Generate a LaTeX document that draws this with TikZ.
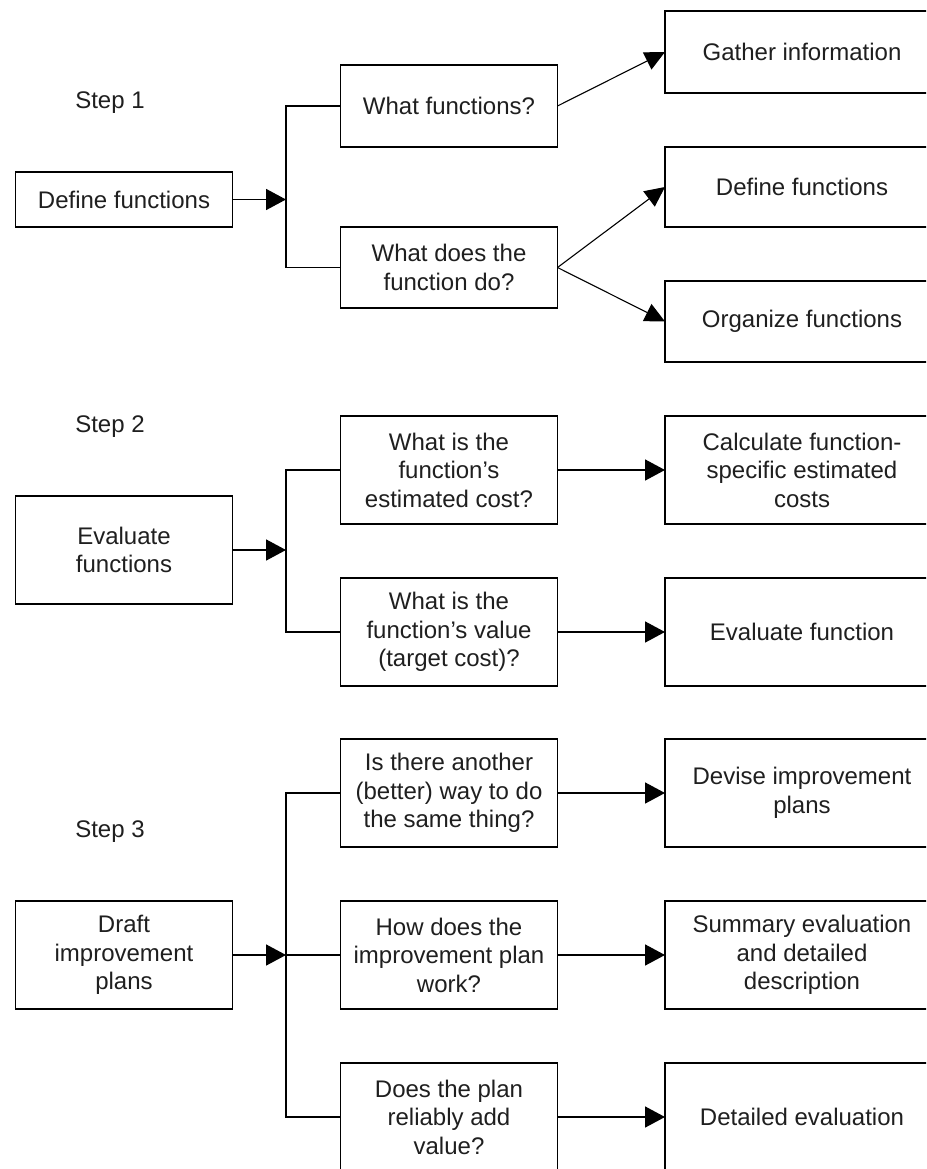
\documentclass[tikz,border=0pt]{standalone}
\usepackage{fontspec}
\setmainfont{Liberation Sans}
\usetikzlibrary{arrows.meta}
\begin{document}
\begin{tikzpicture}[x=1pt,y=-1pt,
  box/.style={draw, line width=1.6pt, outer sep=0pt, inner sep=2pt,
    align=center, text=black!88,
    font=\fontsize{24}{28.5}\selectfont},
  leftbox/.style={box, minimum width=217pt},
  midbox/.style={box, minimum width=217pt},
  rightbox/.style={box, minimum width=274pt},
  steplabel/.style={text=black!88, font=\fontsize{24}{28.5}\selectfont},
  link/.style={line width=1.6pt},
  arrowlink/.style={line width=1.6pt, -{Triangle[length=20pt,width=21pt]}},
  slantlink/.style={line width=1.1pt, -{Triangle[length=20pt,width=19pt]}}]
\useasboundingbox (0,0) rectangle (926,1169);
\clip (0,0) rectangle (926,1169);
\fill[white] (0,0) rectangle (926,1169);

% Step 1
\node[steplabel] (s1) at (110,103) {Step 1};
\node[leftbox, minimum height=55pt] (df) at (124,199.5) {Define functions};
\node[midbox, minimum height=82pt] (q1a) at (449,106) {What functions?};
\node[midbox, minimum height=81pt] (q1b) at (449,267.5) {What does the\\function do?};
\node[rightbox, minimum height=82pt] (r1a) at (802,52) {Gather information};
\node[rightbox, minimum height=80pt] (r1b) at (802,187) {Define functions};
\node[rightbox, minimum height=81pt] (r1c) at (802,321.5) {Organize functions};
\coordinate (j1) at (286,199.5);
\draw[arrowlink] (df.east) -- (j1);
\draw[link] (j1) |- (q1a.west);
\draw[link] (j1) |- (q1b.west);
\draw[slantlink] (q1a.east) -- (r1a.west);
\draw[slantlink] (q1b.east) -- (r1b.west);
\draw[slantlink] (q1b.east) -- (r1c.west);

% Step 2
\node[steplabel] (s2) at (110,427) {Step 2};
\node[leftbox, minimum height=108pt] (ef) at (124,550) {Evaluate\\functions};
\node[midbox, minimum height=108pt] (q2a) at (449,470) {What is the\\function's\\estimated cost?};
\node[midbox, minimum height=108pt] (q2b) at (449,632) {What is the\\function's value\\(target cost)?};
\node[rightbox, minimum height=108pt] (r2a) at (802,470) {Calculate function-\\specific estimated\\costs};
\node[rightbox, minimum height=108pt] (r2b) at (802,632) {Evaluate function};
\coordinate (j2) at (286,550);
\draw[arrowlink] (ef.east) -- (j2);
\draw[link] (j2) |- (q2a.west);
\draw[link] (j2) |- (q2b.west);
\draw[arrowlink] (q2a.east) -- (r2a.west);
\draw[arrowlink] (q2b.east) -- (r2b.west);

% Step 3
\node[steplabel] (s3) at (110,832) {Step 3};
\node[leftbox, minimum height=108pt] (dp) at (124,955) {Draft\\improvement\\plans};
\node[midbox, minimum height=108pt] (q3a) at (449,793) {Is there another\\(better) way to do\\the same thing?};
\node[midbox, minimum height=108pt] (q3b) at (449,955) {How does the\\improvement plan\\work?};
\node[midbox, minimum height=108pt] (q3c) at (449,1117) {Does the plan\\reliably add\\value?};
\node[rightbox, minimum height=108pt] (r3a) at (802,793) {Devise improvement\\plans};
\node[rightbox, minimum height=108pt] (r3b) at (802,955) {Summary evaluation\\and detailed\\description};
\node[rightbox, minimum height=108pt] (r3c) at (802,1117) {Detailed evaluation};
\coordinate (j3) at (286,955);
\draw[arrowlink] (dp.east) -- (j3);
\draw[link] (j3) |- (q3a.west);
\draw[link] (j3) -- (q3b.west);
\draw[link] (j3) |- (q3c.west);
\draw[arrowlink] (q3a.east) -- (r3a.west);
\draw[arrowlink] (q3b.east) -- (r3b.west);
\draw[arrowlink] (q3c.east) -- (r3c.west);
\end{tikzpicture}
\end{document}
